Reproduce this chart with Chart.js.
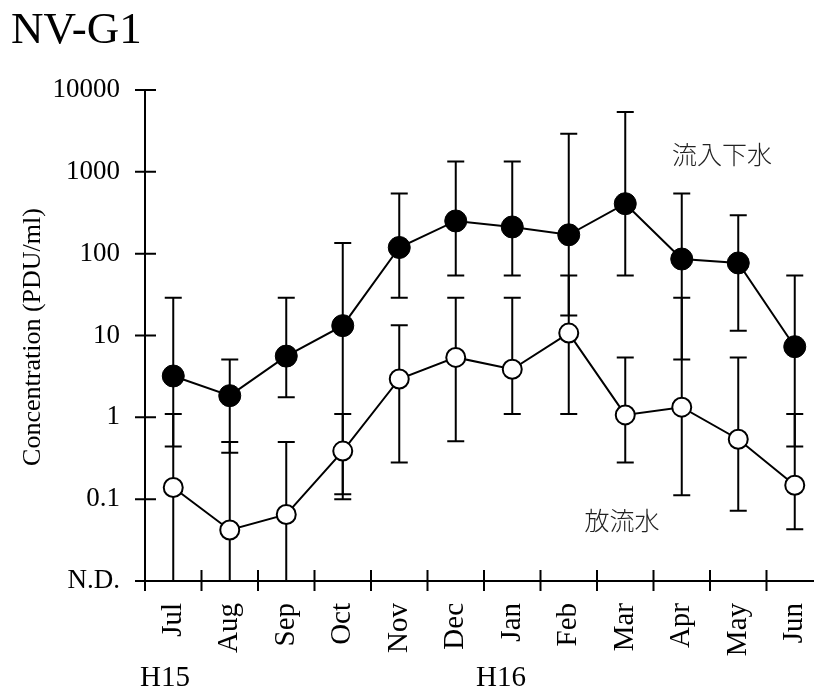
<!DOCTYPE html>
<html>
<head>
<meta charset="utf-8">
<script src="https://cdn.jsdelivr.net/npm/chart.js@4.4.1/dist/chart.umd.min.js"></script>
<style>
  html, body { margin: 0; padding: 0; overflow: hidden; background: #fff; }
  canvas { display: block; }
</style>
</head>
<body>
<canvas id="c" width="840" height="690"></canvas>
<script>
const months = ['Jul', 'Aug', 'Sep', 'Oct', 'Nov', 'Dec', 'Jan', 'Feb', 'Mar', 'Apr', 'May', 'Jun'];

// 流入下水 (filled markers)
const influent     = [3.2, 1.84, 5.6, 13.2, 119, 251, 212, 170, 408, 86, 77, 7.3];
const influentHigh = [29, 5.1, 29, 135, 545, 1340, 1340, 2930, 5400, 545, 294, 54];
const influentLow  = [0.44, 0.37, 1.76, 0.115, 29, 54, 54, 17.5, 54, 5.1, 11.4, 0.44];

// 放流水 (open markers)
const effluent     = [0.139, 0.042, 0.065, 0.387, 2.94, 5.4, 3.87, 10.7, 1.07, 1.33, 0.54, 0.148];
const effluentHigh = [1.1, 0.5, 0.5, 1.1, 13.3, 29, 29, 54, 5.4, 29, 5.4, 1.1];
const effluentLow  = [0.01, 0.01, 0.01, 0.1, 0.28, 0.51, 1.1, 1.1, 0.28, 0.112, 0.072, 0.043];

const yTicks = [0.01, 0.1, 1, 10, 100, 1000, 10000];
const ND = 0.01;

const serif = '"Liberation Serif", "Times New Roman", serif';
const cjk = '"Noto Sans CJK JP", sans-serif';

// axis lines with tick marks crossing the axis
const axes = {
  id: 'axes',
  beforeDatasetsDraw(chart) {
    const { ctx, chartArea: a, scales: { x, y } } = chart;
    const w = x.getPixelForValue(1) - x.getPixelForValue(0);
    const yb = y.getPixelForValue(ND);
    ctx.save();
    ctx.strokeStyle = '#000';
    ctx.lineWidth = 2;
    ctx.beginPath();
    ctx.moveTo(a.left, a.top);
    ctx.lineTo(a.left, yb);
    ctx.moveTo(a.left - 10, yb);
    ctx.lineTo(chart.width, yb);
    yTicks.forEach((v) => {
      const py = y.getPixelForValue(v);
      ctx.moveTo(a.left - 10, py);
      ctx.lineTo(a.left + 11, py);
    });
    for (let i = 0; i <= months.length; i++) {
      const px = a.left + i * w;
      ctx.moveTo(px, yb - 11);
      ctx.lineTo(px, yb + 10);
    }
    ctx.stroke();
    ctx.restore();
  },
};

const errorBars = {
  id: 'errorBars',
  beforeDatasetsDraw(chart) {
    const { ctx, scales: { x, y } } = chart;
    const cap = 8.5;
    ctx.save();
    ctx.strokeStyle = '#000';
    ctx.lineWidth = 2;
    [[influentLow, influentHigh], [effluentLow, effluentHigh]].forEach(([lo, hi]) => {
      months.forEach((m, i) => {
        const px = x.getPixelForValue(i);
        const yl = y.getPixelForValue(lo[i]);
        const yh = y.getPixelForValue(hi[i]);
        ctx.beginPath();
        ctx.moveTo(px, yl);
        ctx.lineTo(px, yh);
        ctx.moveTo(px - cap, yh);
        ctx.lineTo(px + cap, yh);
        if (lo[i] > ND) {
          ctx.moveTo(px - cap, yl);
          ctx.lineTo(px + cap, yl);
        }
        ctx.stroke();
      });
    });
    ctx.restore();
  },
};

const notes = {
  id: 'notes',
  afterDraw(chart) {
    const { ctx } = chart;
    ctx.save();
    ctx.fillStyle = '#000';
    ctx.textAlign = 'left';
    ctx.textBaseline = 'alphabetic';
    ctx.font = `45px ${serif}`;
    ctx.fillText('NV-G1', 11, 43);
    ctx.font = `29px ${serif}`;
    ctx.fillText('H15', 140, 686);
    ctx.fillText('H16', 476, 686);

    ctx.save();
    ctx.translate(33, 337);
    ctx.rotate(-Math.PI / 2);
    ctx.textAlign = 'center';
    ctx.textBaseline = 'middle';
    ctx.font = `26px ${serif}`;
    ctx.fillText('Concentration (PDU/ml)', 0, 0);
    ctx.restore();

    ctx.fillStyle = '#222';
    ctx.textAlign = 'center';
    ctx.textBaseline = 'middle';
    ctx.font = `300 25px ${cjk}`;
    ctx.fillText('流入下水', 722, 154);
    ctx.fillText('放流水', 622, 520);
    ctx.restore();
  },
};

new Chart(document.getElementById('c'), {
  type: 'line',
  data: {
    labels: months,
    datasets: [
      {
        label: '流入下水',
        data: influent,
        borderColor: '#000',
        borderWidth: 2,
        pointRadius: 11,
        pointBackgroundColor: '#000',
        pointBorderColor: '#000',
        pointBorderWidth: 1,
      },
      {
        label: '放流水',
        data: effluent,
        borderColor: '#000',
        borderWidth: 2,
        pointRadius: 9.5,
        pointBackgroundColor: '#fff',
        pointBorderColor: '#000',
        pointBorderWidth: 2,
      },
    ],
  },
  options: {
    responsive: false,
    animation: false,
    layout: { padding: { left: 0, right: 17, top: 90, bottom: 0 } },
    plugins: { legend: { display: false }, tooltip: { enabled: false } },
    scales: {
      x: {
        type: 'category',
        offset: true,
        grid: { display: false, drawTicks: false },
        border: { display: false },
        ticks: {
          color: '#000',
          font: { family: serif, size: 29 },
          minRotation: 90,
          maxRotation: 90,
          padding: 22,
          autoSkip: false,
        },
        afterFit(s) {
          s.height = 109;
          s.paddingLeft = 0;
          s.paddingRight = 0;
        },
      },
      y: {
        type: 'logarithmic',
        min: 0.01,
        max: 10000,
        grid: { display: false, drawTicks: false },
        border: { display: false },
        afterBuildTicks(s) { s.ticks = yTicks.map((v) => ({ value: v })); },
        ticks: {
          color: '#000',
          font: { family: serif, size: 27 },
          padding: 25,
          callback: (v) => (v === ND ? 'N.D.' : String(v)),
        },
        afterFit(s) {
          s.width = 145;
          s.paddingTop = 0;
          s.paddingBottom = 0;
        },
      },
    },
  },
  plugins: [axes, errorBars, notes],
});
</script>
</body>
</html>
